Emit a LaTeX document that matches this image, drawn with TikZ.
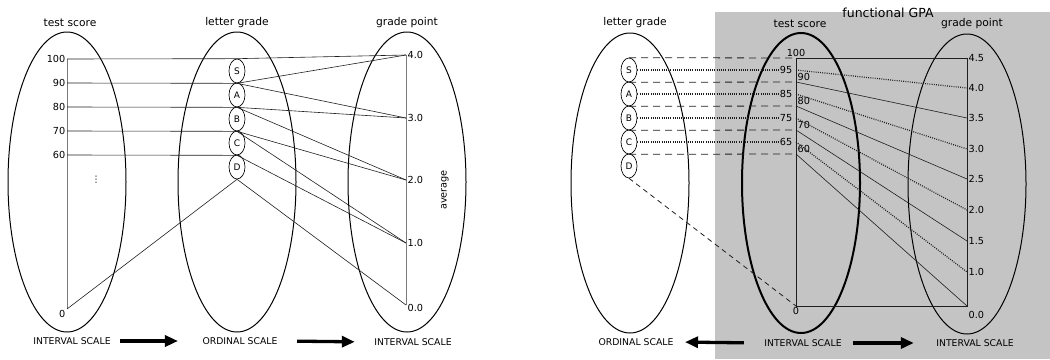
\documentclass[tikz,border=0pt]{standalone}
\usepackage{fontspec}
\setmainfont{DejaVu Sans}
\usepackage{tikz}
\usetikzlibrary{arrows.meta,positioning,shapes.geometric}
\definecolor{PanelGray}{HTML}{C4C4C4}
\definecolor{AxisGray}{HTML}{7A7A7A}
\definecolor{InkDark}{HTML}{1E1E1E}

\begin{document}
\begin{tikzpicture}[x=1pt,y=-1pt,>=Latex,
  bigoval/.style={draw,ellipse,minimum width=118pt,minimum height=300pt,inner sep=0pt,line width=1pt},
  boldoval/.style={bigoval,line width=2pt},
  letter/.style={draw,ellipse,minimum width=16pt,minimum height=24pt,inner sep=0pt,line width=.65pt,font=\fontsize{9}{10}\selectfont},
  title/.style={font=\fontsize{10.7}{12}\selectfont},
  num/.style={font=\fontsize{9.7}{10}\selectfont,inner sep=1.5pt},
  scalelab/.style={font=\fontsize{9.3}{10}\selectfont},
  link/.style={InkDark,line width=.6pt},
  axisline/.style={AxisGray,line width=.55pt},
  dashlink/.style={InkDark,line width=.8pt,dash pattern=on 7pt off 5pt},
  dotlink/.style={InkDark,line width=1.2pt,dash pattern=on .9pt off 1.3pt},
  bigarrow/.style={-{Triangle[length=13pt,width=11pt]},line width=3.3pt}]
\useasboundingbox (0,0) rectangle (1050,359);
\fill[PanelGray] (715,12) rectangle (1050,359);

\node[bigoval] (TS) at (67,182) {};
\node[bigoval] (LG) at (237,182) {};
\node[bigoval] (GP) at (407,182) {};
\node[title] (TStitle) at (70,23) {test score};
\node[title] (LGtitle) at (237,23) {letter grade};
\node[title] (GPtitle) at (407,23) {grade point};
\node[letter] (lS) at (237,71) {S};
\node[letter] (lA) at (237,95) {A};
\node[letter] (lB) at (237,119) {B};
\node[letter] (lC) at (237,143) {C};
\node[letter] (lD) at (237,167) {D};
\coordinate (t100) at (67,59);\coordinate (t90) at (67,83);\coordinate (t80) at (67,107);
\coordinate (t70) at (67,131);\coordinate (t60) at (67,155);\coordinate (t0) at (67,309);
\coordinate (g40) at (406,55);\coordinate (g30) at (406,118);\coordinate (g20) at (406,180);
\coordinate (g10) at (406,243);\coordinate (g00) at (406,305);
\draw[axisline] (t100)--(t0);\draw[axisline] (g40)--(g00);
\node[num,left] (t100l) at (t100) {100};
\node[num,left] (t90l) at (t90) {90};
\node[num,left] (t80l) at (t80) {80};
\node[num,left] (t70l) at (t70) {70};
\node[num,left] (t60l) at (t60) {60};
\node[num,below left] (t0l) at (t0) {0};
\node[font=\fontsize{9}{10}\selectfont] (tdots) at (96,180) {⋮};
\node[num,right] (g40l) at (g40) {4.0};
\node[num,right] (g30l) at (g30) {3.0};
\node[num,right] (g20l) at (g20) {2.0};
\node[num,right] (g10l) at (g10) {1.0};
\node[num,right,yshift=-3pt] (g00l) at (g00) {0.0};
\node[num,rotate=90] (avg) at (445,190) {average};
\draw[link] (t100)--(lS.north)--(g40);
\draw[link] (t90)--(lS.south)--(g40);\draw[link] (lS.south)--(g30);
\draw[link] (t80)--(lA.south)--(g30);\draw[link] (lA.south)--(g20);
\draw[link] (t70)--(lB.south)--(g20);\draw[link] (lB.south)--(g10);
\draw[link] (t60)--(lC.south)--(g10);
\draw[link] (lD.south)--(g00);\draw[link] (lD.south)--(t0);
\node[scalelab] (sc1) at (72,341) {INTERVAL SCALE};
\node[scalelab] (sc2) at (240,341) {ORDINAL SCALE};
\node[scalelab] (sc3) at (413,342) {INTERVAL SCALE};
\draw[bigarrow,shorten <=6pt,shorten >=21pt] (sc1.east)--(sc2.west);
\draw[bigarrow,shorten <=16pt,shorten >=16pt] (sc2.east)--(sc3.west);

\node[bigoval] (LG2) at (630,183) {};
\node[boldoval] (TS2) at (801,183) {};
\node[bigoval] (GP2) at (967,184) {};
\node[title] (LG2title) at (635,23) {letter grade};
\node[title] (TS2title) at (800,24) {test score};
\node[title] (GP2title) at (972,24) {grade point};
\node[font=\fontsize{12.5}{14}\selectfont] (gpa) at (888,13) {functional GPA};
\node[letter] (rS) at (629,70) {S};
\node[letter] (rA) at (629,94) {A};
\node[letter] (rB) at (629,118) {B};
\node[letter] (rC) at (629,142) {C};
\node[letter] (rD) at (629,166) {D};
\coordinate (s100) at (796,58);\coordinate (s95) at (796,70);\coordinate (s90) at (796,82);
\coordinate (s85) at (796,94);\coordinate (s80) at (796,106);\coordinate (s75) at (796,118);
\coordinate (s70) at (796,130);\coordinate (s65) at (796,142);\coordinate (s60) at (796,154);
\coordinate (s0) at (796,306);
\coordinate (p45) at (967,58);\coordinate (p40) at (967,88);\coordinate (p35) at (967,118);
\coordinate (p30) at (967,149);\coordinate (p25) at (967,179);\coordinate (p20) at (967,210);
\coordinate (p15) at (967,241);\coordinate (p10) at (967,272);\coordinate (p00) at (967,306);
\draw[link,line width=.55pt] (s100)--(p45)--(p00)--(s0)--cycle;
\node[num,above] (s100l) at (s100) {100};
\node[num,left,xshift=-2pt] (s95l) at (s95) {95};
\node[num,left,xshift=-2pt] (s85l) at (s85) {85};
\node[num,left,xshift=-2pt] (s75l) at (s75) {75};
\node[num,left,xshift=-2pt] (s65l) at (s65) {65};
\node[num,above right] (s90l) at (s90) {90};
\node[num,above right] (s80l) at (s80) {80};
\node[num,above right] (s70l) at (s70) {70};
\node[num,above right] (s60l) at (s60) {60};
\node[num,below] (s0l) at (s0) {0};
\node[num,right] (p45l) at (p45) {4.5};
\node[num,right] (p40l) at (p40) {4.0};
\node[num,right] (p35l) at (p35) {3.5};
\node[num,right] (p30l) at (p30) {3.0};
\node[num,right] (p25l) at (p25) {2.5};
\node[num,right] (p20l) at (p20) {2.0};
\node[num,right] (p15l) at (p15) {1.5};
\node[num,right] (p10l) at (p10) {1.0};
\node[num,right,yshift=-9pt] (p00l) at (p00) {0.0};
\draw[dashlink] (rS.north)--(s100);\draw[dashlink] (rS.south)--(s90);\draw[dashlink] (rA.south)--(s80);
\draw[dashlink] (rB.south)--(s70);\draw[dashlink] (rC.south)--(s60);
\draw[dashlink,dash pattern=on 5pt off 4pt] (rD.south)--(s0);
\draw[dotlink] (rS)--(s95l);\draw[dotlink] (rA)--(s85l);\draw[dotlink] (rB)--(s75l);\draw[dotlink] (rC)--(s65l);
\draw[dotlink] (s95)--(p40);\draw[dotlink] (s85)--(p30);\draw[dotlink] (s75)--(p20);\draw[dotlink] (s65)--(p10);
\draw[link] (s90)--(p35);\draw[link] (s80)--(p25);\draw[link] (s70)--(p15);\draw[link] (s60)--(p00);
\node[scalelab] (sc4) at (636,342) {ORDINAL SCALE};
\node[scalelab] (sc5) at (803,343) {INTERVAL SCALE};
\node[scalelab] (sc6) at (975,343) {INTERVAL SCALE};
\draw[bigarrow,shorten <=17pt,shorten >=8pt] (sc5.west)--(sc4.east);
\draw[bigarrow,shorten <=8pt,shorten >=19pt] (sc5.east)--(sc6.west);
\end{tikzpicture}
\end{document}
